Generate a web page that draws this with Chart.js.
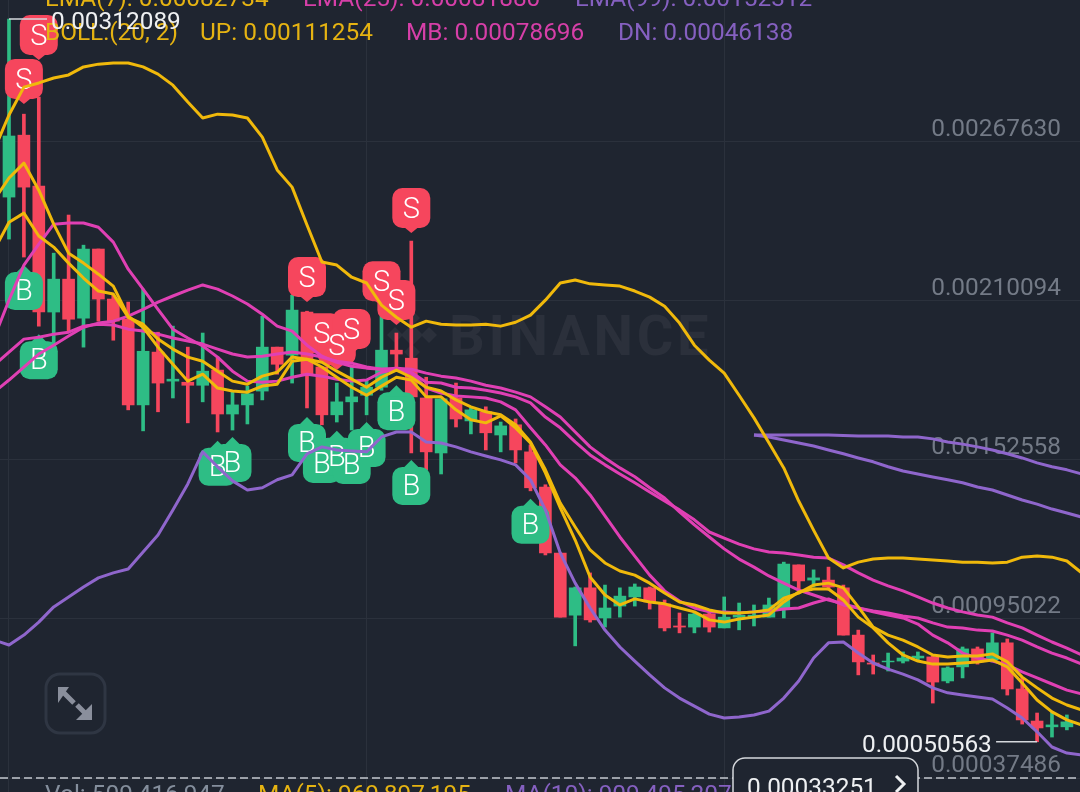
<!DOCTYPE html>
<html>
<head>
<meta charset="utf-8">
<title>BOLL candles</title>
<script src="https://cdn.jsdelivr.net/npm/chart.js@4"></script>
<style>
  html, body { margin: 0; padding: 0; background: #1f2530; overflow: hidden; }
  canvas { display: block; }
</style>
</head>
<body>
<canvas id="chart" width="1080" height="792"></canvas>
<script>
// all prices below are in millionths (0.000001)
const opens = [2477,2701,2517,2061,2180,2039,2289,2108,2035,1725,1916,1811,1807,1796,1851,1692,1725,1775,1934,1905,2061,1862,1689,1736,1760,1789,1923,1894,1750,1551,1750,1667,1700,1616,1653,1555,1428,1189,964,1063,954,997,1030,1063,1005,925,921,968,918,957,957,957,990,1146,1091,1091,1063,892,791,795,798,809,813,726,777,842,802,864,697,581,560,560];
const highs = [3121,2777,2839,2274,2412,2303,2289,2122,2097,2144,1988,2010,1934,1985,1898,1771,1793,2046,1934,2122,2064,1862,1804,1862,1815,2068,1985,2318,1825,1747,1804,1714,1718,1663,1674,1580,1436,1189,1066,1117,1073,1063,1077,1066,1019,972,972,972,1030,1008,1001,1026,1156,1146,1128,1138,1073,910,820,827,831,831,816,777,849,849,900,878,737,610,614,603];
const lows = [2325,2260,2010,1945,1988,1934,2028,1959,1707,1631,1700,1750,1660,1736,1627,1634,1656,1743,1836,1804,1714,1653,1663,1634,1689,1778,1851,1551,1490,1475,1645,1620,1562,1555,1515,1414,1182,957,853,939,921,957,997,986,907,900,900,903,918,911,925,957,954,1055,1066,1055,892,748,751,762,791,802,646,719,737,787,795,675,570,506,523,549];
const closes = [2698,2513,2061,2180,2035,2289,2108,2028,1725,1919,1804,1818,1796,1847,1692,1725,1765,1934,1872,2068,1833,1689,1736,1754,1789,1923,1909,1754,1555,1747,1674,1707,1624,1649,1562,1425,1189,957,1063,947,990,1033,1066,1012,918,921,968,921,957,964,964,1001,1149,1088,1099,1066,892,795,787,798,809,816,722,773,842,795,864,697,585,556,567,578];

// line series start one candle before the first visible candle
const lineStart = -1;
const bollUp = [2647,2774,2875,2890,2908,2919,2948,2958,2962,2962,2948,2922,2882,2821,2763,2777,2774,2763,2694,2575,2513,2376,2242,2231,2187,2166,2086,2042,2006,2028,2017,2014,2014,2017,2010,2024,2050,2104,2166,2177,2163,2159,2155,2137,2115,2082,2021,1941,1887,1840,1760,1678,1588,1497,1377,1272,1171,1135,1156,1167,1171,1171,1167,1164,1160,1156,1156,1153,1156,1174,1178,1174,1160,1117];
const bollMb = [1967,2104,2231,2307,2379,2383,2383,2368,2314,2216,2144,2071,1999,1967,1938,1898,1847,1811,1807,1811,1825,1836,1829,1818,1811,1815,1843,1854,1840,1786,1768,1757,1754,1750,1736,1707,1642,1580,1508,1461,1399,1323,1247,1178,1109,1052,1015,990,976,976,972,976,979,986,990,1008,1023,1001,990,976,965,954,932,892,864,827,809,798,784,759,737,715,693,679];
const bollDn = [874,856,892,939,994,1030,1066,1099,1117,1131,1193,1254,1345,1439,1555,1501,1450,1417,1425,1454,1472,1548,1573,1562,1558,1555,1609,1627,1627,1591,1587,1573,1555,1540,1526,1508,1454,1345,1189,1080,990,910,849,798,748,701,664,635,606,592,596,603,617,664,726,809,864,867,827,791,769,751,730,701,683,675,668,661,628,592,542,487,465,458];
const ema7 = [2466,2546,2600,2502,2379,2274,2238,2198,2155,2046,2006,1934,1872,1811,1836,1786,1775,1771,1793,1800,1883,1890,1862,1825,1789,1760,1793,1825,1815,1754,1754,1707,1671,1660,1685,1642,1587,1479,1352,1236,1102,1037,1001,1023,1012,1005,990,976,947,939,950,957,965,1012,1048,1059,1059,1019,957,918,864,820,798,787,787,791,795,802,777,719,657,614,585,567];
const ma7 = [2285,2386,2419,2336,2296,2238,2184,2137,2126,2042,2017,1963,1927,1898,1883,1847,1811,1800,1829,1843,1898,1890,1879,1847,1818,1789,1825,1851,1825,1789,1775,1743,1718,1700,1689,1653,1591,1490,1370,1283,1200,1153,1124,1109,1080,1044,1012,1001,983,972,972,976,983,1026,1044,1073,1080,1063,994,921,892,874,849,820,813,816,816,824,795,740,701,664,639,621];
const ma25 = [1771,1815,1862,1909,1941,1974,2006,2021,2028,2046,2071,2097,2119,2140,2159,2144,2119,2090,2053,2010,1992,1941,1901,1879,1865,1858,1854,1858,1854,1840,1829,1822,1811,1796,1786,1771,1754,1718,1681,1627,1573,1533,1497,1465,1425,1388,1338,1291,1247,1204,1167,1138,1106,1080,1055,1037,1019,1005,990,979,972,961,954,936,921,918,910,907,892,874,849,827,809,787];
const ema25 = [1869,1916,1963,1970,1981,1988,2010,2017,2014,1999,1992,1981,1967,1956,1945,1927,1909,1898,1901,1909,1916,1909,1898,1883,1876,1862,1854,1854,1843,1807,1804,1789,1786,1778,1768,1754,1732,1681,1642,1591,1544,1508,1475,1443,1410,1377,1345,1309,1265,1243,1221,1204,1193,1189,1182,1174,1171,1146,1117,1091,1070,1052,1030,1008,990,976,965,957,936,918,892,867,845,820];

// the 99 period lines only begin at candle 50
const longStart = 50;
const ema99 = [1616,1616,1616,1616,1616,1616,1614,1612,1612,1612,1609,1609,1602,1591,1583,1573,1562,1548,1533,1515,1501,1490,1475];
const ma99 = [1616,1609,1598,1587,1576,1562,1548,1533,1519,1501,1486,1475,1464,1454,1443,1428,1417,1399,1381,1366,1348,1334,1319];

const sellCandles = [2,1,20,21,22,23,25,26,27];
const sellPrices = [2973,2814,2097,1894,1851,1909,2082,2014,2347];
const buyCandles = [1,2,14,15,20,21,22,23,24,26,27,35];
const buyPrices = [2231,1981,1595,1609,1681,1605,1631,1602,1663,1796,1526,1385];

const priceTicks = [0.00037486,0.00095022,0.00152558,0.00210094,0.0026763];
const candleTicks = [0,24,48];

const UP_COL = '#2ebd85';
const DOWN_COL = '#f6465d';
const YELLOW = '#f0b90b';
const PINK = '#e040b4';
const PURPLE = '#8f66cc';
const FONT = 'Roboto, sans-serif';

const price = v => v * 1e-6;

function lineData(values, start) {
    return values.map((v, i) => ({ x: start + i, y: price(v) }));
}

function lineSet(label, values, start, color, order) {
    return {
        type: 'line', label, data: lineData(values, start), borderColor: color,
        borderWidth: 3, pointRadius: 0, tension: 0, order, borderJoinStyle: 'round'
    };
}

function markerSet(label, candles, prices, order) {
    return {
        type: 'line', label, showLine: false, pointRadius: 0, order,
        data: candles.map((c, i) => ({ x: c, y: price(prices[i]) }))
    };
}

const candleColors = opens.map((o, i) => closes[i] >= o ? UP_COL : DOWN_COL);

const datasets = [
    {
        type: 'bar', label: 'wick', grouped: false, barThickness: 3, order: 20,
        backgroundColor: candleColors,
        data: opens.map((o, i) => ({ x: i, y: [price(lows[i]), price(highs[i])] }))
    },
    {
        type: 'bar', label: 'body', grouped: false, barThickness: 12, order: 19,
        backgroundColor: candleColors,
        data: opens.map((o, i) => ({ x: i, y: [price(o), price(closes[i])] }))
    },
    markerSet('B', buyCandles, buyPrices, 18),
    markerSet('S', sellCandles, sellPrices, 17),
    lineSet('MA99', ma99, longStart, PURPLE, 9),
    lineSet('EMA99', ema99, longStart, PURPLE, 8),
    lineSet('DN', bollDn, lineStart, PURPLE, 7),
    lineSet('EMA25', ema25, lineStart, PINK, 6),
    lineSet('MA25', ma25, lineStart, PINK, 5),
    lineSet('MB', bollMb, lineStart, PINK, 4),
    lineSet('UP', bollUp, lineStart, YELLOW, 3),
    lineSet('MA7', ma7, lineStart, YELLOW, 2),
    lineSet('EMA7', ema7, lineStart, YELLOW, 1)
];

function drawPin(ctx, x, tip, dir) {
    // dir -1: box above the tip (sell), dir 1: box below the tip (buy)
    const near = tip + dir * (dir < 0 ? 5 : 7);
    const far = tip + dir * 45;
    const top = Math.min(near, far);
    const h = Math.abs(far - near);
    ctx.beginPath();
    ctx.roundRect(x - 19, top, 38, h, 10);
    ctx.fill();
    ctx.beginPath();
    ctx.moveTo(x, tip);
    ctx.lineTo(x - 11, near + dir * 4);
    ctx.lineTo(x + 11, near + dir * 4);
    ctx.closePath();
    ctx.fill();
}

const pinPlugin = {
    id: 'pins',
    afterDatasetDraw(chart, args) {
        const label = chart.data.datasets[args.index].label;
        if (label !== 'B' && label !== 'S') return;
        const ctx = chart.ctx;
        const dir = label === 'S' ? -1 : 1;
        ctx.save();
        ctx.fillStyle = label === 'S' ? DOWN_COL : UP_COL;
        args.meta.data.forEach(p => drawPin(ctx, p.x, p.y, dir));
        ctx.fillStyle = '#ffffff';
        ctx.font = '300 29px ' + FONT;
        ctx.textAlign = 'center';
        ctx.textBaseline = 'middle';
        args.meta.data.forEach(p => ctx.fillText(label, p.x, p.y + (dir < 0 ? -22 : 28)));
        ctx.restore();
    }
};

const watermarkPlugin = {
    id: 'watermark',
    beforeDatasetsDraw(chart) {
        const ctx = chart.ctx;
        ctx.save();
        ctx.fillStyle = '#2b303b';
        ctx.font = 'bold 56px ' + FONT;
        ctx.letterSpacing = '3.7px';
        ctx.textBaseline = 'alphabetic';
        ctx.fillText('BINANCE', 449, 355);
        [[412, 335, 11], [395, 335, 8], [429, 335, 8], [412, 318, 8], [412, 352, 8]].forEach(d => {
            ctx.beginPath();
            ctx.moveTo(d[0], d[1] - d[2]);
            ctx.lineTo(d[0] + d[2], d[1]);
            ctx.lineTo(d[0], d[1] + d[2]);
            ctx.lineTo(d[0] - d[2], d[1]);
            ctx.closePath();
            ctx.fill();
        });
        ctx.restore();
    }
};

function text(ctx, str, x, y, color) {
    ctx.fillStyle = color;
    ctx.fillText(str, x, y);
}

const overlayPlugin = {
    id: 'overlay',
    afterDraw(chart) {
        const ctx = chart.ctx;
        const sx = chart.scales.x, sy = chart.scales.y;
        ctx.save();
        ctx.font = '24.4px ' + FONT;
        ctx.textBaseline = 'alphabetic';

        // indicator legends
        text(ctx, 'EMA(7): 0.00082734', 45, 6, '#e5b312');
        text(ctx, 'EMA(25): 0.00081880', 303, 6, '#d63fa8');
        text(ctx, 'EMA(99): 0.00152312', 575, 6, '#8560c0');
        text(ctx, 'BOLL:(20, 2)', 45, 40, '#e5b312');
        text(ctx, 'UP: 0.00111254', 200, 40, '#e5b312');
        text(ctx, 'MB: 0.00078696', 406, 40, '#d63fa8');
        text(ctx, 'DN: 0.00046138', 618, 40, '#8560c0');

        // high and low price labels
        const hiX = sx.getPixelForValue(0), hiY = sy.getPixelForValue(price(highs[0]));
        const loX = sx.getPixelForValue(69), loY = sy.getPixelForValue(price(lows[69]));
        ctx.strokeStyle = '#d5d8dc';
        ctx.lineWidth = 1.5;
        ctx.beginPath();
        ctx.moveTo(hiX, hiY);
        ctx.lineTo(hiX + 38, hiY);
        ctx.moveTo(loX, loY);
        ctx.lineTo(loX - 41, loY);
        ctx.stroke();
        text(ctx, '0.00312089', 51, 29, '#eef0f2');
        text(ctx, '0.00050563', 862, 752, '#eef0f2');

        // bottom dashed line
        const bottom = sy.getPixelForValue(priceTicks[0]);
        ctx.strokeStyle = '#c4c8ce';
        ctx.setLineDash([8, 4]);
        ctx.beginPath();
        ctx.moveTo(0, bottom);
        ctx.lineTo(1080, bottom);
        ctx.stroke();
        ctx.setLineDash([]);

        // volume legend
        text(ctx, 'Vol: 509,416,947', 45, 802, '#848e9c');
        text(ctx, 'MA(5): 969,897,195', 258, 802, '#e5b312');
        text(ctx, 'MA(10): 909,495,207', 505, 802, '#8560c0');

        // current price box
        ctx.fillStyle = '#1f2530';
        ctx.strokeStyle = '#d5d8dc';
        ctx.lineWidth = 1.5;
        ctx.beginPath();
        ctx.roundRect(733, 758, 185, 60, 12);
        ctx.fill();
        ctx.stroke();
        text(ctx, '0.00033251', 747, 795, '#eef0f2');
        ctx.strokeStyle = '#eef0f2';
        ctx.lineWidth = 3;
        ctx.beginPath();
        ctx.moveTo(896, 776);
        ctx.lineTo(904, 784);
        ctx.lineTo(896, 792);
        ctx.stroke();

        // expand button
        ctx.strokeStyle = '#2f3643';
        ctx.lineWidth = 3;
        ctx.beginPath();
        ctx.roundRect(46, 674, 59, 59, 14);
        ctx.stroke();
        ctx.fillStyle = ctx.strokeStyle = '#8a8f9c';
        ctx.beginPath();
        ctx.moveTo(58, 687);
        ctx.lineTo(69, 687);
        ctx.lineTo(58, 703);
        ctx.closePath();
        ctx.moveTo(92, 720);
        ctx.lineTo(76, 720);
        ctx.lineTo(92, 704);
        ctx.closePath();
        ctx.fill();
        ctx.lineWidth = 5;
        ctx.beginPath();
        ctx.moveTo(63, 692);
        ctx.lineTo(74, 703);
        ctx.moveTo(87, 715);
        ctx.lineTo(77, 705);
        ctx.stroke();
        ctx.restore();
    }
};

// no room for axes: both run inside the plot, edge to edge
function flatten(scale) {
    scale.paddingTop = scale.paddingBottom = scale.paddingLeft = scale.paddingRight = 0;
    if (scale.isHorizontal()) scale.height = 0;
    else scale.width = 0;
}

new Chart(document.getElementById('chart'), {
    type: 'bar',
    data: { datasets },
    plugins: [pinPlugin, watermarkPlugin, overlayPlugin],
    options: {
        responsive: false,
        animation: false,
        events: [],
        layout: { padding: 0 },
        plugins: { legend: { display: false }, tooltip: { enabled: false } },
        scales: {
            x: {
                type: 'linear',
                min: -0.604,
                max: 71.88,
                offset: false,
                afterBuildTicks: s => { s.ticks = candleTicks.map(value => ({ value })); },
                afterFit: flatten,
                grid: { color: '#2b313c', offset: false, drawTicks: false },
                border: { display: false },
                ticks: { display: false }
            },
            y: {
                type: 'linear',
                position: 'right',
                min: 0.0003242,
                max: 0.00319013,
                afterBuildTicks: s => { s.ticks = priceTicks.map(value => ({ value })); },
                afterFit: flatten,
                grid: { color: '#2b313c', drawTicks: false },
                border: { display: false },
                ticks: {
                    mirror: true,
                    padding: -19,
                    labelOffset: -12,
                    color: '#737a86',
                    font: { family: FONT, size: 24.4 },
                    callback: v => v.toFixed(8)
                }
            }
        }
    }
});
</script>
</body>
</html>
